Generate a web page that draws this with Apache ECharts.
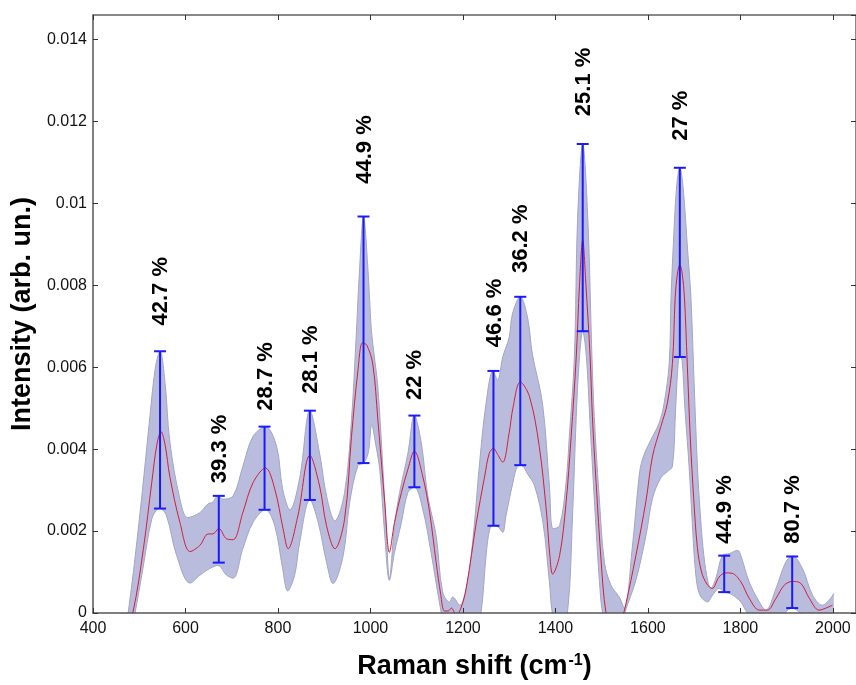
<!DOCTYPE html>
<html>
<head>
<meta charset="utf-8">
<script src="https://cdn.jsdelivr.net/npm/echarts@6/dist/echarts.min.js"></script>
<style>
  html, body { margin: 0; padding: 0; background: #fff; }
  #chart { width: 856px; height: 685px; }
</style>
</head>
<body>
<div id="chart"></div>
<script>
// values in units of 1e-3 (arb. un.), x in cm-1
const UNIT = 1e-3

const meanCurve = [
  [466, -0.6], [486, 0], [509, 1.57], [527, 3.18], [538, 4.1], [547, 4.43], [556, 4.1], [566, 3.34],
  [588, 2.21], [610, 1.5], [631, 1.65], [649, 1.93], [659, 1.93], [672, 2.06], [689, 1.81], [703, 1.79],
  [724, 2.45], [746, 3.18], [773, 3.54], [793, 3.03], [811, 2.06], [822, 1.57], [843, 2.37], [869, 3.85],
  [890, 3.1], [905, 2.13], [923, 1.57], [944, 2.29], [959, 4.31], [973, 5.93], [983, 6.6], [992, 6.54],
  [1005, 6.08], [1016, 4.72], [1031, 2.69], [1041, 1.48], [1052, 2.21], [1067, 2.94], [1081, 3.51],
  [1095, 3.95], [1113, 3.34], [1128, 2.45], [1142, 1.24], [1152, 0.45], [1160, 0.05], [1168, 0.05],
  [1175, 0.12], [1185, -0.05], [1195, 0.1], [1207, 0.6], [1229, 2.21], [1247, 3.34], [1257, 3.9],
  [1266, 4.02], [1275, 3.87], [1286, 3.68], [1300, 4.4], [1308, 5.0], [1324, 5.64], [1344, 5.28],
  [1365, 4.07], [1380, 2.54], [1388, 1.4], [1394, 0.95], [1409, 1.4], [1423, 2.69], [1434, 4.31],
  [1445, 6.25], [1452, 8.0], [1459, 9.1], [1466, 8.0], [1475, 6.25], [1480, 4.79], [1488, 3.18],
  [1499, 1.24], [1509, 0.03], [1520, -0.3], [1535, -0.4], [1545, -0.1], [1552, 0.2], [1574, 1.4],
  [1596, 2.75], [1610, 3.83], [1628, 4.55], [1642, 5.12], [1653, 6.09], [1659, 7.7], [1664, 8.3],
  [1669, 8.5], [1674, 8.3], [1679, 7.7], [1685, 6.1], [1692, 4.2], [1699, 2.8], [1707, 1.6], [1716, 1.0],
  [1728, 0.7], [1739, 0.6], [1754, 0.88], [1768, 0.98], [1782, 0.97], [1801, 0.76], [1819, 0.36],
  [1841, 0.07], [1858, 0.07], [1877, 0.36], [1895, 0.68], [1912, 0.77], [1930, 0.73], [1949, 0.36],
  [1970, 0.07], [1985, 0.12], [1999, 0.19]
]

const upperCurve = [
  [462, -0.8], [476, 0], [501, 2.37], [523, 4.79], [535, 6.0], [545, 6.39], [556, 5.6], [566, 4.2],
  [588, 2.78], [605, 2.33], [631, 2.45], [648, 2.66], [659, 2.71], [670, 2.86], [681, 2.78], [703, 2.86],
  [724, 3.58], [746, 4.31], [773, 4.55], [797, 4.07], [810, 3.03], [826, 2.52], [847, 3.3], [869, 4.94],
  [890, 3.9], [905, 2.86], [923, 2.25], [944, 2.94], [959, 4.72], [969, 6.73], [976, 8.3], [985, 9.68],
  [994, 8.5], [1002, 6.9], [1008, 6.3], [1016, 5.52], [1027, 3.51], [1034, 2.06], [1041, 0.85],
  [1052, 2.13], [1063, 2.94], [1081, 3.9], [1095, 4.82], [1110, 4.15], [1124, 2.86], [1142, 1.89],
  [1156, 0.52], [1171, 0.27], [1178, 0.39], [1193, 0.19], [1207, 0.6], [1221, 1.73], [1236, 3.66],
  [1250, 5.12], [1265, 5.91], [1275, 5.69], [1286, 6.25], [1300, 6.73], [1307, 7.3], [1324, 7.72],
  [1340, 7.2], [1350, 6.33], [1372, 5.12], [1387, 3.1], [1395, 2.06], [1409, 2.13], [1423, 3.18],
  [1430, 4.31], [1441, 6.25], [1448, 9.64], [1459, 11.45], [1470, 9.64], [1479, 6.25], [1484, 4.79],
  [1495, 2.78], [1506, 1.24], [1520, 0.68], [1538, 0.39], [1549, 0.12], [1566, 1.57], [1581, 3.34],
  [1588, 3.75], [1603, 4.15], [1624, 4.63], [1635, 5.12], [1646, 6.09], [1650, 7.7], [1655, 9.0],
  [1662, 10.4], [1669, 10.87], [1676, 10.4], [1686, 8.84], [1693, 7.7], [1700, 5.6], [1707, 3.6],
  [1714, 2.3], [1721, 1.4], [1730, 0.75], [1736, 0.6], [1747, 0.85], [1761, 1.4], [1776, 1.45],
  [1794, 1.53], [1801, 1.4], [1819, 0.76], [1841, 0.27], [1855, 0.07], [1877, 0.6], [1898, 1.24],
  [1913, 1.39], [1934, 1.09], [1956, 0.44], [1977, 0.19], [1995, 0.36], [2002, 0.48]
]

const lowerCurve = [
  [470, -1.2], [491, 0], [508, 1.09], [527, 2.29], [540, 2.54], [545, 2.55], [559, 2.37], [581, 1.4],
  [610, 0.73], [631, 0.92], [653, 1.09], [670, 1.16], [689, 0.92], [703, 0.85], [724, 1.57], [746, 2.21],
  [773, 2.52], [793, 2.13], [810, 1.09], [821, 0.54], [836, 0.92], [847, 1.73], [869, 2.76], [887, 2.21],
  [905, 1.24], [919, 0.72], [941, 1.4], [955, 2.69], [973, 3.6], [985, 3.66], [995, 3.9], [1003, 4.6],
  [1010, 4.2], [1020, 3.51], [1031, 1.89], [1041, 0.8], [1052, 1.48], [1067, 2.21], [1081, 2.94],
  [1095, 3.07], [1113, 2.54], [1131, 1.48], [1149, 0.27], [1160, -0.3], [1190, -1.0], [1225, -0.6],
  [1239, 0], [1250, 1.4], [1258, 2.05], [1266, 2.13], [1276, 2.1], [1286, 1.97], [1293, 2.37],
  [1308, 3.18], [1318, 3.58], [1326, 3.6], [1340, 3.39], [1355, 3.1], [1373, 2.21], [1387, 0.76],
  [1395, -0.1], [1410, -0.4], [1426, 0], [1437, 2.37], [1445, 4.79], [1452, 6.25], [1459, 6.88],
  [1467, 6.25], [1475, 4.6], [1485, 2.6], [1495, 0.8], [1502, 0], [1520, -0.8], [1540, -0.5], [1550, 0],
  [1574, 0.8], [1596, 1.9], [1610, 2.8], [1628, 3.3], [1642, 3.45], [1653, 3.58], [1660, 5.0],
  [1666, 6.17], [1670, 6.25], [1674, 6.17], [1680, 5.0], [1689, 3.58], [1696, 2.2], [1703, 1.0],
  [1712, 0.45], [1729, 0.27], [1740, 0.44], [1754, 0.6], [1765, 0.52], [1783, 0.44], [1801, 0.27],
  [1815, 0], [1840, -0.3], [1870, -0.2], [1895, 0], [1912, 0.12], [1930, 0], [1960, -0.2], [2000, 0]
]

// error bars at the main bands
const barX = [545, 672, 771, 869, 985, 1095, 1266, 1324, 1459, 1669, 1765, 1912]
const barLow = [2.55, 1.23, 2.52, 2.76, 3.66, 3.07, 2.13, 3.61, 6.88, 6.25, 0.51, 0.12]
const barHigh = [6.39, 2.86, 4.55, 4.94, 9.68, 4.82, 5.91, 7.72, 11.45, 10.87, 1.4, 1.38]
const barPercent = ['42.7', '39.3', '28.7', '28.1', '44.9', '22', '46.6', '36.2', '25.1', '27', '44.9', '80.7']
// where each rotated label starts (same units as the values)
const labelBase = [7.02, 3.17, 4.94, 5.35, 10.48, 5.2, 6.49, 8.3, 12.13, 11.53, 1.69, 1.69]

const xTicks = { min: 400, max: 2050, interval: 200 }
const yTicks = { min: 0, max: 0.0146, interval: 0.002 }

const FONT = '"Liberation Sans", Arial, Helvetica, sans-serif'
const BAND = '#b9bcdd'
const BAND_EDGE = '#a3a5c4'

const scaled = pts => pts.map(p => [p[0], p[1] * UNIT])

const barData = barX.map((x, i) => [x, barLow[i] * UNIT, barHigh[i] * UNIT, labelBase[i] * UNIT])

const chart = echarts.init(document.getElementById('chart'), null, { renderer: 'canvas' })

function renderErrorBar(params, api) {
  const x = api.value(0)
  const lo = api.coord([x, api.value(1)])
  const hi = api.coord([x, api.value(2)])
  const base = api.coord([x, api.value(3)])
  const cap = 6
  const stroke = { stroke: '#1a1aff', lineWidth: 2 }
  return {
    type: 'group',
    children: [
      { type: 'line', shape: { x1: lo[0], y1: lo[1], x2: hi[0], y2: hi[1] }, style: stroke },
      { type: 'line', shape: { x1: lo[0] - cap, y1: lo[1], x2: lo[0] + cap, y2: lo[1] }, style: stroke },
      { type: 'line', shape: { x1: hi[0] - cap, y1: hi[1], x2: hi[0] + cap, y2: hi[1] }, style: stroke },
      {
        type: 'text',
        x: base[0] + 1,
        y: base[1],
        rotation: Math.PI / 2,
        style: {
          text: barPercent[params.dataIndex] + ' %',
          fill: '#000',
          font: 'bold 22px ' + FONT,
          align: 'left',
          verticalAlign: 'middle'
        }
      }
    ]
  }
}

const tickStyle = { show: true, inside: true, length: 5, lineStyle: { color: '#333', width: 1 } }

const option = {
  animation: false,
  backgroundColor: '#fff',
  grid: { left: 93, right: -1, top: 15, bottom: 67, containLabel: false },
  xAxis: [
    {
      type: 'value',
      position: 'bottom',
      ...xTicks,
      z: 10,
      name: 'Raman shift (cm{sup|-1})',
      nameLocation: 'middle',
      nameGap: 40,
      nameTextStyle: {
        fontFamily: FONT, fontSize: 27, fontWeight: 'bold', color: '#000',
        rich: { sup: { fontFamily: FONT, fontSize: 16, fontWeight: 'bold', color: '#000', verticalAlign: 'top', padding: [0, 0, 10, 1] } }
      },
      axisLine: { show: true, onZero: false, lineStyle: { color: '#555', width: 1.5 } },
      axisTick: tickStyle,
      axisLabel: {
        showMaxLabel: false, margin: 8, fontFamily: FONT, fontSize: 16, color: '#111',
        formatter: v => String(v)
      },
      splitLine: { show: false }
    },
    {
      type: 'value',
      position: 'top',
      ...xTicks,
      z: 10,
      axisLine: { show: true, onZero: false, lineStyle: { color: '#888', width: 2 } },
      axisTick: tickStyle,
      axisLabel: { show: false },
      splitLine: { show: false }
    }
  ],
  yAxis: [
    {
      type: 'value',
      position: 'left',
      ...yTicks,
      z: 10,
      name: 'Intensity (arb. un.)',
      nameLocation: 'middle',
      nameGap: 52,
      nameTextStyle: { fontFamily: FONT, fontSize: 27, fontWeight: 'bold', color: '#000' },
      axisLine: { show: true, onZero: false, lineStyle: { color: '#555', width: 1.5 } },
      axisTick: tickStyle,
      axisLabel: {
        showMaxLabel: false, margin: 6, fontFamily: FONT, fontSize: 16, color: '#111',
        formatter: v => String(+v.toFixed(4))
      },
      splitLine: { show: false }
    },
    {
      type: 'value',
      position: 'right',
      ...yTicks,
      z: 10,
      axisLine: { show: true, onZero: false, lineStyle: { color: '#888', width: 2 } },
      axisTick: tickStyle,
      axisLabel: { show: false },
      splitLine: { show: false }
    }
  ],
  series: [
    {
      name: 'upper',
      type: 'line',
      data: scaled(upperCurve),
      smooth: 0.35,
      symbol: 'none',
      lineStyle: { color: BAND_EDGE, width: 1 },
      areaStyle: { color: BAND, opacity: 1 },
      z: 2
    },
    {
      name: 'lower',
      type: 'line',
      data: scaled(lowerCurve),
      smooth: 0.35,
      symbol: 'none',
      lineStyle: { color: BAND_EDGE, width: 1 },
      areaStyle: { color: '#fff', opacity: 1 },
      z: 2
    },
    {
      name: 'mean',
      type: 'line',
      data: scaled(meanCurve),
      smooth: 0.35,
      symbol: 'none',
      lineStyle: { color: '#d01f3c', width: 1 },
      z: 3
    },
    {
      name: 'error',
      type: 'custom',
      renderItem: renderErrorBar,
      data: barData,
      encode: { x: 0, y: [1, 2] },
      z: 4
    }
  ]
}

chart.setOption(option)
</script>
</body>
</html>
